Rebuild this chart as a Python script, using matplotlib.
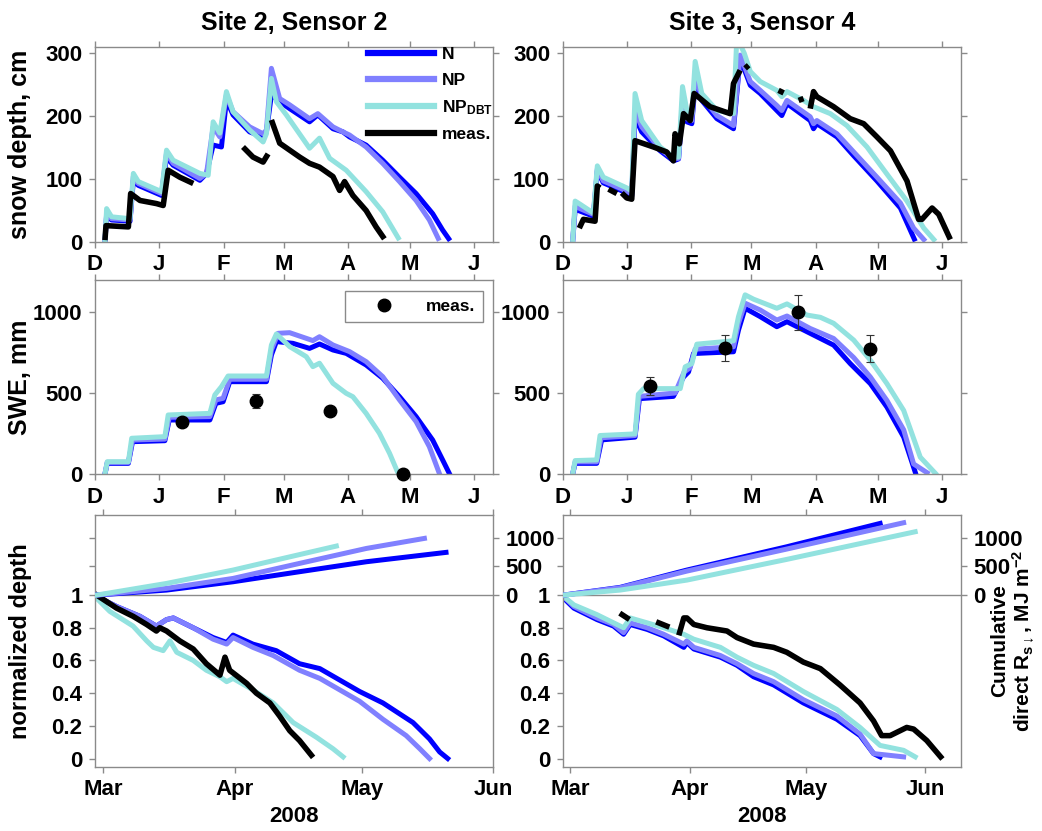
import numpy as np
import matplotlib
matplotlib.use("Agg")
import matplotlib.pyplot as plt
from matplotlib.lines import Line2D

nan = np.nan

# ---- snow depth (cm), days since 1 Dec 2007 ----
tl_n_day = [4.8, 5.6, 8.0, 16.9, 18.5, 20.9, 32.1, 34.5, 37.7, 50.6, 53.8, 57.0, 61.0, 63.4, 66.6, 74.6, 81.1,
            82.7, 85.1, 89.1, 93.9, 103.5, 107.5, 114.8, 119.6, 122.8, 130.8, 138.8, 146.9, 154.9, 162.9, 167.7, 171.3]
tl_n_cm = [0, 42, 35, 33, 98, 90, 74, 135, 122, 98, 109, 154, 151, 226, 202, 175, 167,
           175, 234, 223, 212, 191, 202, 180, 175, 167, 154, 130, 103, 77, 45, 19, 2]
tl_np_day = [4.8, 5.6, 8.0, 16.9, 18.5, 20.9, 32.1, 34.5, 37.7, 50.6, 53.8, 57.0, 60.2, 63.4, 66.6, 74.6, 81.1,
             82.7, 85.1, 89.1, 93.9, 103.5, 107.5, 114.8, 119.6, 122.8, 130.8, 138.8, 146.9, 154.9, 161.3, 166.1]
tl_np_cm = [0, 45, 37, 35, 104, 93, 77, 141, 125, 101, 109, 183, 167, 234, 207, 183, 172,
            178, 276, 228, 218, 196, 204, 183, 175, 170, 151, 125, 96, 66, 35, 2]
tl_dbt_day = [4.8, 5.6, 8.0, 16.9, 18.5, 20.9, 32.1, 34.5, 37.7, 50.6, 54.6, 57.0, 60.2, 63.4, 66.6, 74.6, 81.1,
              82.7, 85.1, 87.5, 92.3, 103.5, 108.3, 113.2, 121.2, 130.8, 138.8, 146.9]
tl_dbt_cm = [0, 53, 40, 37, 109, 96, 80, 146, 130, 109, 106, 191, 173, 239, 207, 178, 159,
             172, 260, 223, 202, 149, 165, 133, 114, 80, 48, 3]
tl_meas_day = [4.8, 5.3, 16.1, 17.2, 21.7, 29.7, 32.9, 35.3, 40.9, 47.4, nan, 71.4, 76.2, 81.1, 83.5, nan,
               85.1, 89.1, 93.9, 98.7, 103.5, 108.3, 114.8, 118.0, 120.4, 124.4, 130.8, 135.6, 139.6]
tl_meas_cm = [3, 26, 24, 77, 66, 61, 58, 114, 103, 93, nan, 151, 135, 127, 140, nan,
              194, 157, 146, 135, 125, 119, 104, 82, 96, 74, 50, 24, 5]

tr_n_day = [4.8, 6.0, 8.4, 14.8, 16.7, 19.6, 30.9, 33.3, 34.9, 38.1, 47.0, 53.4, 55.9, 57.8, 59.9, 62.3, 63.9,
            67.1, 74.4, 82.4, 85.6, 90.5, 95.3, 103.3, 105.7, 108.2, 119.4, 121.0, 122.6, 132.3, 140.4, 151.6, 162.9, 170.1]
tr_n_cm = [0, 52, 49, 41, 113, 94, 78, 73, 199, 175, 145, 129, 132, 215, 191, 188, 252,
           225, 196, 180, 292, 249, 236, 209, 201, 220, 193, 180, 188, 167, 137, 97, 54, 1]
tr_np_day = [4.8, 6.0, 8.4, 14.8, 16.7, 19.6, 30.9, 33.3, 34.9, 38.1, 47.0, 53.4, 55.9, 57.8, 59.9, 62.3, 63.9,
             67.1, 74.4, 82.4, 85.6, 90.5, 95.3, 103.3, 105.7, 108.2, 119.4, 121.0, 122.6, 132.3, 140.4, 151.6,
             162.9, 169.3, 175.0]
tr_np_cm = [0, 57, 53, 44, 116, 97, 81, 76, 209, 183, 148, 132, 133, 225, 196, 193, 263,
            231, 201, 185, 297, 255, 241, 217, 209, 225, 199, 188, 193, 172, 143, 103, 62, 22, 1]
tr_dbt_day = [4.8, 6.0, 8.4, 14.8, 16.7, 19.6, 30.9, 33.3, 34.9, 38.1, 47.0, 53.4, 55.9, 57.8, 59.9, 62.3, 63.9,
              67.1, 74.4, 82.4, 84.0, 87.6, 90.5, 95.3, 103.3, 105.7, 108.2, 116.2, 121.0, 129.1, 137.1, 146.8,
              156.4, 166.1, 174.2, 179.8]
tr_dbt_cm = [0, 65, 60, 46, 121, 103, 86, 81, 236, 193, 151, 135, 135, 247, 209, 204, 287,
             236, 209, 204, 325, 300, 271, 255, 241, 231, 239, 225, 215, 204, 185, 151, 108, 65, 22, 1]
tr_meas_day = [8.0, 10.0, 15.6, 16.7, 18.0, nan, 22.1, 26.1, nan,
               28.5, 30.9, 33.3, 34.9, 43.8, 50.2, 53.4, 54.2, 56.3, 58.3, 61.5, 63.4, 71.1, 80.8, 82.4, 85.6, nan,
               88.0, 89.7, nan, 104.1, 106.6, nan, 113.8, 116.2, nan,
               119.4, 121.0, 122.6, 130.7, 138.7, 145.2, 151.6, 158.1, 166.1, 171.7, 173.3, 178.2, 181.4, 187.0]
tr_meas_cm = [22, 36, 33, 89, 86, nan, 84, 77, nan,
              78, 70, 68, 161, 151, 143, 129, 172, 156, 204, 193, 236, 215, 204, 252, 273, nan,
              276, 281, nan, 241, 237, nan, 225, 228, nan,
              212, 239, 231, 215, 196, 188, 167, 145, 97, 36, 36, 54, 44, 4]

# ---- SWE (mm) ----
ml_n_day = [4.8, 5.9, 16.1, 18.1, 33.7, 35.8, 55.4, 58.3, 61.8, 65.0, 82.7, 85.1, 87.5, 95.5, 103.5, 108.3,
            114.8, 121.2, 130.8, 138.8, 146.9, 154.9, 162.9, 167.7, 170.9]
ml_n_swe = [0, 66, 66, 200, 206, 334, 334, 437, 447, 571, 571, 736, 819, 808, 777, 804,
            767, 746, 674, 592, 478, 355, 210, 87, 4]
ml_np_day = [4.8, 5.9, 16.1, 18.1, 33.7, 35.8, 55.4, 58.3, 61.8, 65.0, 82.7, 85.1, 88.3, 93.9, 101.9, 105.1,
             108.3, 114.8, 122.8, 130.8, 138.8, 146.9, 154.9, 161.3, 166.1]
ml_np_swe = [0, 72, 72, 210, 216, 351, 355, 458, 468, 586, 586, 767, 870, 874, 839, 825,
             849, 798, 757, 695, 602, 458, 324, 169, 4]
ml_dbt_day = [4.8, 5.9, 16.1, 17.7, 33.7, 35.3, 55.4, 57.8, 61.0, 64.2, 82.7, 85.1, 87.5, 93.9, 101.9, 105.1,
              108.3, 114.8, 121.2, 124.4, 130.8, 137.2, 142.1, 146.1]
ml_dbt_swe = [0, 76, 76, 221, 231, 365, 375, 489, 540, 606, 606, 798, 866, 788, 726, 664,
              685, 561, 499, 478, 375, 252, 128, 8]
ml_meas_day = [42.2, 77.8, 113.2, 148.5]
ml_meas_swe = [320, 452, 390, 0]
ml_meas_err = [20, 45, 25, 0]

mr_n_day = [4.8, 6.0, 16.4, 18.8, 34.9, 37.0, 53.4, 58.3, 60.7, 63.1, 82.4, 84.8, 88.0, 95.3, 103.3, 108.2,
            119.4, 130.7, 138.7, 148.4, 156.4, 164.5, 170.1]
mr_n_swe = [0, 66, 66, 211, 228, 466, 480, 600, 631, 745, 756, 890, 1025, 973, 911, 942,
            870, 797, 683, 559, 414, 228, 10]
mr_np_day = [4.8, 6.0, 16.4, 18.5, 34.9, 36.9, 54.2, 58.6, 61.5, 63.9, 82.4, 84.8, 88.0, 95.3, 103.3, 108.2,
             119.4, 130.7, 140.4, 148.4, 156.4, 164.5, 169.3, 175.8]
mr_np_swe = [0, 75, 75, 224, 238, 480, 501, 631, 658, 772, 787, 932, 1056, 1014, 952, 977,
             900, 838, 720, 600, 455, 273, 62, 8]
mr_dbt_day = [4.8, 6.0, 16.4, 18.0, 34.9, 36.5, 39.0, 56.7, 59.1, 62.3, 64.7, 82.4, 84.8, 88.0, 92.1, 103.3,
              108.2, 117.8, 124.3, 130.7, 140.4, 148.4, 156.4, 164.5, 172.5, 179.8]
mr_dbt_swe = [0, 83, 87, 238, 248, 493, 528, 528, 663, 683, 803, 824, 973, 1108, 1081, 1025,
              1052, 983, 969, 932, 828, 704, 559, 393, 104, 4]
mr_meas_day = [42.2, 78.4, 113.5, 148.4]
mr_meas_swe = [545, 780, 1000, 776]
mr_meas_err = [57, 80, 110, 85]

# ---- cumulative direct shortwave (MJ m-2) ----
bl_cum_n_day = [89.4, 105.9, 121.6, 137.3, 153.1, 171.9]
bl_cum_n = [0, 87, 232, 407, 581, 744]
bl_cum_np_day = [89.4, 105.9, 121.6, 137.3, 153.1, 166.8]
bl_cum_np = [0, 116, 290, 552, 813, 988]
bl_cum_dbt_day = [89.4, 105.9, 121.6, 133.4, 146.0]
bl_cum_dbt = [0, 203, 436, 639, 854]

br_cum_n_day = [89.3, 103.9, 121.2, 147.1, 171.3]
br_cum_n = [0, 134, 436, 842, 1249]
br_cum_np_day = [89.3, 103.9, 121.2, 147.1, 177.4]
br_cum_np = [0, 128, 418, 802, 1261]
br_cum_dbt_day = [89.3, 103.9, 121.2, 147.1, 180.4]
br_cum_dbt = [0, 87, 261, 622, 1104]

# ---- normalized depth ----
bl_norm_meas_day = [89.4, 94.1, 98.0, 101.2, 103.5, 104.3, 105.9, 109.0, 112.2, 115.3, 118.5, 119.7, 120.8,
                    124.8, 127.1, 130.3, 132.6, 135.0, 137.3, 140.1]
bl_norm_meas = [1.0, 0.92, 0.87, 0.82, 0.78, 0.80, 0.78, 0.72, 0.67, 0.58, 0.51, 0.62, 0.54,
                0.46, 0.40, 0.34, 0.26, 0.17, 0.11, 0.02]
bl_norm_dbt_day = [89.4, 92.5, 98.0, 101.2, 102.8, 105.1, 106.7, 108.3, 112.2, 115.3, 118.5, 120.1, 121.6,
                   126.3, 131.1, 135.8, 141.3, 145.2, 147.6]
bl_norm_dbt = [0.98, 0.90, 0.81, 0.72, 0.68, 0.66, 0.72, 0.65, 0.60, 0.54, 0.50, 0.47, 0.49,
               0.42, 0.34, 0.22, 0.13, 0.06, 0.01]
bl_norm_np_day = [89.4, 94.1, 99.6, 103.5, 105.9, 107.5, 112.2, 116.9, 120.1, 121.6, 126.3, 131.1, 137.3,
                  142.1, 146.8, 151.5, 157.0, 162.5, 165.7, 168.0]
bl_norm_np = [0.99, 0.93, 0.87, 0.81, 0.85, 0.86, 0.80, 0.73, 0.70, 0.74, 0.68, 0.63, 0.54,
              0.49, 0.42, 0.35, 0.24, 0.14, 0.06, 0.0]
bl_norm_n_day = [89.4, 94.1, 99.6, 103.5, 105.9, 107.5, 112.2, 116.9, 120.1, 121.6, 126.3, 131.8, 137.3,
                 142.1, 146.8, 151.5, 157.0, 164.1, 168.0, 170.4, 172.3]
bl_norm_n = [0.99, 0.93, 0.87, 0.81, 0.85, 0.86, 0.80, 0.74, 0.71, 0.755, 0.70, 0.66, 0.58,
             0.55, 0.48, 0.41, 0.34, 0.22, 0.12, 0.04, 0.0]

br_norm_meas_day = [104.4, 105.7, nan, 113.9, 116.0, nan, 119.3, 120.4, 121.2, 123.0, 126.4, 131.6, 134.2,
                    138.5, 143.7, 147.1, 151.4, 155.8, 160.9, 166.1, 169.6, 171.7, 173.9, 178.2, 180.0, 183.4, 187.0]
br_norm_meas = [0.88, 0.86, nan, 0.83, 0.81, nan, 0.77, 0.86, 0.86, 0.82, 0.80, 0.78, 0.74,
                0.70, 0.68, 0.65, 0.59, 0.55, 0.45, 0.34, 0.23, 0.14, 0.14, 0.19, 0.18, 0.11, 0.01]
br_norm_dbt_day = [89.3, 91.9, 97.9, 102.2, 104.8, 106.5, 110.9, 115.2, 120.4, 123.0, 129.9, 134.2, 138.5,
                   143.7, 151.4, 160.1, 166.1, 171.3, 177.4, 180.4]
br_norm_dbt = [0.99, 0.94, 0.88, 0.83, 0.80, 0.86, 0.83, 0.80, 0.76, 0.73, 0.68, 0.62, 0.57,
               0.52, 0.41, 0.30, 0.19, 0.08, 0.05, 0.01]
br_norm_np_day = [89.3, 91.9, 97.9, 102.2, 104.8, 106.5, 110.9, 115.2, 120.4, 121.2, 123.0, 129.9, 134.2,
                  138.5, 143.7, 151.4, 160.1, 166.1, 169.6, 177.4]
br_norm_np = [0.99, 0.93, 0.86, 0.82, 0.77, 0.83, 0.80, 0.76, 0.70, 0.72, 0.68, 0.63, 0.58,
              0.52, 0.47, 0.36, 0.26, 0.15, 0.03, 0.01]
br_norm_n_day = [89.3, 91.9, 97.9, 102.2, 104.8, 106.5, 110.9, 115.2, 120.4, 121.2, 123.0, 129.9, 134.2,
                 138.5, 143.7, 151.4, 160.1, 166.1, 169.6, 171.3]
br_norm_n = [0.98, 0.92, 0.85, 0.81, 0.76, 0.82, 0.79, 0.75, 0.68, 0.71, 0.67, 0.62, 0.57,
             0.50, 0.45, 0.34, 0.24, 0.14, 0.03, 0.01]

titles = ["Site 2, Sensor 2", "Site 3, Sensor 4"]
month_letters = ["D", "J", "F", "M", "A", "M", "J"]
spring_months = ["Mar", "Apr", "May", "Jun"]

# ---- style ----
plt.rcParams['font.family'] = ['Liberation Sans', 'DejaVu Sans']
plt.rcParams['font.weight'] = 'bold'
plt.rcParams['axes.labelweight'] = 'bold'
plt.rcParams['axes.titleweight'] = 'bold'
plt.rcParams['mathtext.fontset'] = 'custom'
plt.rcParams['mathtext.rm'] = 'Liberation Sans:bold'
plt.rcParams['mathtext.bf'] = 'Liberation Sans:bold'
plt.rcParams['mathtext.it'] = 'Liberation Sans:bold:italic'
plt.rcParams['mathtext.default'] = 'bf'

C_N = '#0000ff'
C_NP = '#8080ff'
C_DBT = '#92e2df'
GRAY = '#8a8a8a'
LW = 3.6

origin = np.datetime64('2007-12-01')
month_starts = np.arange(np.datetime64('2007-12'), np.datetime64('2008-07'),
                         dtype='datetime64[M]').astype('datetime64[D]')
month_days = (month_starts - origin).astype(int)

fig = plt.figure(figsize=(10.42, 8.31), dpi=100)

W = 398 / 1042
lefts = [95 / 1042, 562.7 / 1042]
ax_tl = fig.add_axes([lefts[0], 0.7088, W, 0.2347])
ax_tr = fig.add_axes([lefts[1], 0.7088, W, 0.2347])
ax_ml = fig.add_axes([lefts[0], 0.4296, W, 0.2335])
ax_mr = fig.add_axes([lefts[1], 0.4296, W, 0.2335])
ax_bl = fig.add_axes([lefts[0], 0.0774, W, 0.3029])
ax_br = fig.add_axes([lefts[1], 0.0774, W, 0.3029])


def style(ax, right=True):
    for s in ax.spines.values():
        s.set_color(GRAY)
        s.set_linewidth(1.0)
    ax.tick_params(direction='out', length=4, width=1, color=GRAY, labelsize=16,
                   top=True, right=right, pad=5, labelcolor='black')


def season_axis(ax):
    ax.set_xlim(0, 192)
    ax.set_xticks(month_days)
    ax.set_xticklabels(month_letters)


# snow depth
for ax, title, d in [
    (ax_tl, titles[0], [(tl_n_day, tl_n_cm), (tl_np_day, tl_np_cm), (tl_dbt_day, tl_dbt_cm), (tl_meas_day, tl_meas_cm)]),
    (ax_tr, titles[1], [(tr_n_day, tr_n_cm), (tr_np_day, tr_np_cm), (tr_dbt_day, tr_dbt_cm), (tr_meas_day, tr_meas_cm)]),
]:
    for (x, y), c in zip(d, [C_N, C_NP, C_DBT, 'black']):
        ax.plot(x, y, color=c, lw=LW if c != 'black' else 4.0, solid_capstyle='butt')
    season_axis(ax)
    ax.set_ylim(0, 310)
    ax.set_yticks([0, 100, 200, 300])
    ax.set_title(title, fontsize=18, pad=12)
    style(ax)
ax_tl.set_ylabel('snow depth, cm', fontsize=18)
ax_tl.yaxis.set_label_coords(-0.158, 0.5)

handles = [Line2D([], [], color=c, lw=4.5) for c in [C_N, C_NP, C_DBT, 'black']]
ax_tl.legend(handles, ['N', 'NP', 'NP$_{\\mathrm{DBT}}$', 'meas.'], loc='upper left',
             bbox_to_anchor=(0.685, 1.0), frameon=False, fontsize=12.5, handlelength=3.8,
             handletextpad=0.5, labelspacing=0.6, borderaxespad=0, borderpad=0)

# SWE
for ax, d, (md, ms, me) in [
    (ax_ml, [(ml_n_day, ml_n_swe), (ml_np_day, ml_np_swe), (ml_dbt_day, ml_dbt_swe)],
     (ml_meas_day, ml_meas_swe, ml_meas_err)),
    (ax_mr, [(mr_n_day, mr_n_swe), (mr_np_day, mr_np_swe), (mr_dbt_day, mr_dbt_swe)],
     (mr_meas_day, mr_meas_swe, mr_meas_err)),
]:
    for (x, y), c in zip(d, [C_N, C_NP, C_DBT]):
        ax.plot(x, y, color=c, lw=LW)
    eb = ax.errorbar(md, ms, yerr=me, fmt='o', color='black', ms=9, capsize=3,
                     elinewidth=0.8, capthick=0.8, ecolor='#333333', zorder=5)
    eb.lines[0].set_clip_on(False)
    season_axis(ax)
    ax.set_ylim(0, 1200)
    ax.set_yticks([0, 500, 1000])
    style(ax)
ax_ml.set_ylabel('SWE, mm', fontsize=18)
ax_ml.yaxis.set_label_coords(-0.158, 0.5)
leg = ax_ml.legend([Line2D([], [], ls='none', marker='o', color='black', ms=9)], ['meas.'],
                   loc='upper right', bbox_to_anchor=(0.975, 0.943), borderaxespad=0,
                   fontsize=12.5, handlelength=3.6, handletextpad=0.6, borderpad=0.45,
                   fancybox=False, framealpha=1)
leg.get_frame().set_edgecolor(GRAY)
leg.get_frame().set_linewidth(1.0)

# normalized depth + cumulative radiation
ratio = 2850.0  # MJ m-2 per unit of normalized depth on the shared scale
twins = []
for ax, xmax, cum, norm in [
    (ax_bl, 183,
     [(bl_cum_n_day, bl_cum_n), (bl_cum_np_day, bl_cum_np), (bl_cum_dbt_day, bl_cum_dbt)],
     [(bl_norm_n_day, bl_norm_n), (bl_norm_np_day, bl_norm_np), (bl_norm_dbt_day, bl_norm_dbt),
      (bl_norm_meas_day, bl_norm_meas)]),
    (ax_br, 192.2,
     [(br_cum_n_day, br_cum_n), (br_cum_np_day, br_cum_np), (br_cum_dbt_day, br_cum_dbt)],
     [(br_norm_n_day, br_norm_n), (br_norm_np_day, br_norm_np), (br_norm_dbt_day, br_norm_dbt),
      (br_norm_meas_day, br_norm_meas)]),
]:
    ylo, yhi = -0.05, 1.49
    for (x, y), c in zip(norm, [C_N, C_NP, C_DBT, 'black']):
        ax.plot(x, y, color=c, lw=LW if c != 'black' else 4.0)
    ax.set_xlim(89.0, xmax)
    ax.set_ylim(ylo, yhi)
    ax.set_xticks(month_days[3:])
    ax.set_xticklabels(spring_months)
    ax.set_yticks([0, 0.2, 0.4, 0.6, 0.8, 1, 1 + 500 / ratio, 1 + 1000 / ratio])
    ax.set_yticklabels(['0', '0.2', '0.4', '0.6', '0.8', '1', '', ''])
    ax.set_xlabel('2008', fontsize=16, labelpad=4)
    style(ax, right=False)

    ax2 = ax.twinx()
    ax2.set_ylim((ylo - 1) * ratio, (yhi - 1) * ratio)
    ax2.axhline(0, color=GRAY, lw=1.0, zorder=1)
    for (x, y), c in zip(cum, [C_N, C_NP, C_DBT]):
        ax2.plot(x, y, color=c, lw=LW)
    ax2.set_yticks([0, 500, 1000])
    for s in ax2.spines.values():
        s.set_visible(False)
    ax2.tick_params(direction='out', length=4, width=1, color=GRAY, labelsize=16, pad=5)
    ax.spines['right'].set_color(GRAY)
    twins.append(ax2)

ax_bl.set_ylabel('normalized depth', fontsize=17)
ax_bl.yaxis.set_label_coords(-0.158, 0.5)

twins[1].set_ylabel('Cumulative\ndirect R$_{\\mathrm{s}\\downarrow}$, MJ m$^{-2}$', fontsize=15, linespacing=1.05)
twins[1].yaxis.set_label_coords(1.075, 0.5)

fig.savefig('out.png', dpi=100)
